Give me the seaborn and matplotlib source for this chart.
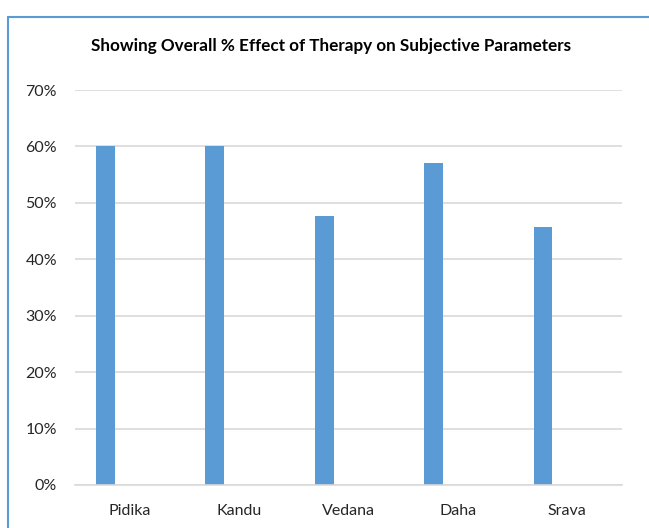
import matplotlib
matplotlib.use("Agg")
import matplotlib.pyplot as plt
from matplotlib.lines import Line2D
from matplotlib.ticker import PercentFormatter
import seaborn as sns
import pandas as pd

# data
parameters = ["Pidika", "Kandu", "Vedana", "Daha", "Srava"]
overall_effect = [0.60, 0.60, 0.476, 0.571, 0.457]
# the Excel chart keeps an empty second series next to each bar
empty_series = [0.0, 0.0, 0.0, 0.0, 0.0]
y_ticks = [0.0, 0.1, 0.2, 0.3, 0.4, 0.5, 0.6, 0.7]

df = pd.DataFrame({
    "parameter": parameters * 2,
    "effect": overall_effect + empty_series,
    "series": ["Series1"] * len(parameters) + ["Series2"] * len(parameters),
})

sns.set_theme(style="white")
plt.rcParams["font.family"] = ["Lato", "DejaVu Sans"]

fig = plt.figure(figsize=(6.49, 5.28), dpi=100)
ax = fig.add_axes([75 / 649, 43 / 528, 547 / 649, 395 / 528])

sns.barplot(data=df, x="parameter", y="effect", hue="series",
            palette=["#5B9BD5", "#ED7D31"], saturation=1, width=0.888, gap=0.61,
            legend=False, ax=ax, linewidth=0)

ax.set_ylim(0, 0.7)
ax.set_yticks(y_ticks)
ax.yaxis.set_major_formatter(PercentFormatter(1.0, decimals=0))
ax.grid(axis="y", color="#D9D9D9", linewidth=1.2)
ax.set_axisbelow(True)
for side in ["left", "right", "top"]:
    ax.spines[side].set_visible(False)
ax.spines["bottom"].set_color("#D9D9D9")
ax.spines["bottom"].set_linewidth(1.2)
ax.tick_params(axis="both", length=0, labelsize=11.5, labelcolor="#262626")
ax.tick_params(axis="y", pad=13)
ax.tick_params(axis="x", pad=13.5)
ax.set_xlabel("")
ax.set_ylabel("")

fig.text(331 / 649, 1 - 46 / 528,
         "Showing Overall % Effect of Therapy on Subjective Parameters",
         ha="center", va="center", fontsize=12.3, fontweight="bold", color="#000000")

# blue frame on the left and top edges, as in the reference
fig.add_artist(Line2D([8 / 649, 8 / 649], [0, 1 - 17 / 528], color="#5B9BD5", linewidth=1.5))
fig.add_artist(Line2D([8 / 649, 1], [1 - 17 / 528, 1 - 17 / 528], color="#5B9BD5", linewidth=1.5))

fig.savefig("out.png", dpi=100)
